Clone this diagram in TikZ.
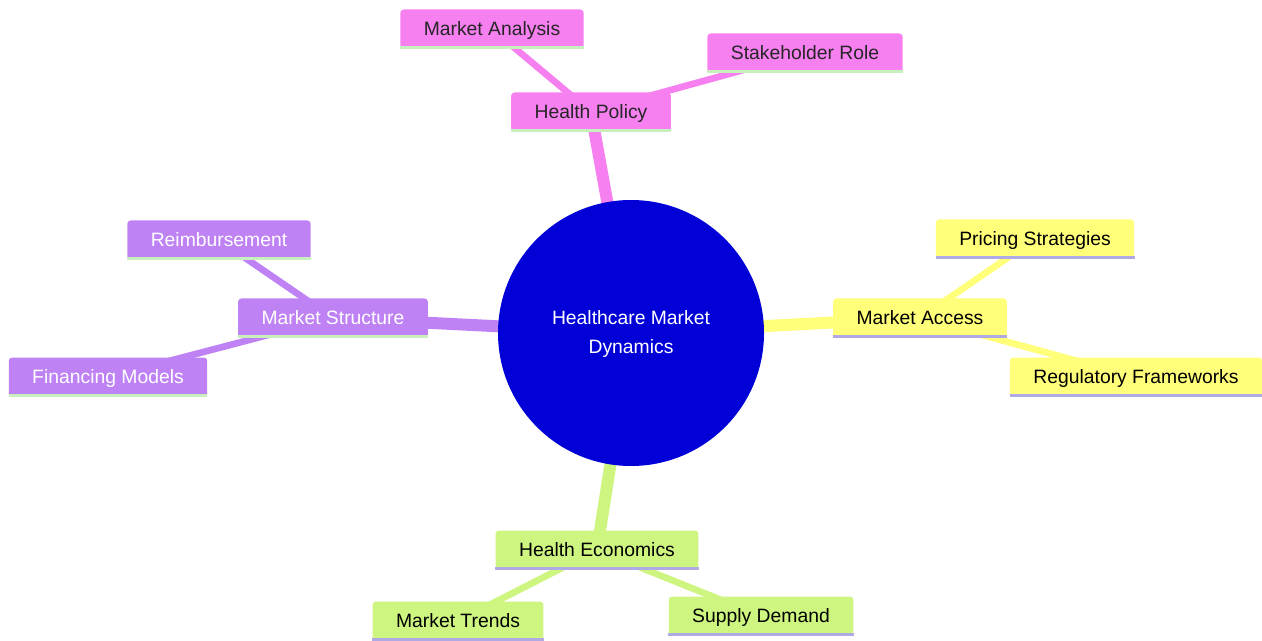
\documentclass[tikz,border=0pt]{standalone}
\usepackage{fontspec}
\setmainfont{Liberation Sans}
\usetikzlibrary{backgrounds}
\definecolor{hubblue}{RGB}{0,0,215}
\definecolor{pinkc}{RGB}{246,128,240}
\definecolor{purplec}{RGB}{191,130,245}
\definecolor{yellowc}{RGB}{255,255,122}
\definecolor{greenc}{RGB}{205,245,128}
\definecolor{lineG}{RGB}{200,240,190}
\definecolor{lineL}{RGB}{175,170,230}
\tikzset{
  hub/.style={circle, fill=hubblue, text=white, minimum size=199.5pt, align=center, font=\fontsize{14.5}{21.75}\selectfont},
  box/.style={rounded corners=2.5pt, minimum height=29.25pt, text height=10.4pt, text depth=0pt, inner xsep=17.6pt, font=\fontsize{14.5}{17}\selectfont},
  mainedge/.style={line width=9pt},
  subedge/.style={line width=5pt},
  botline/.style={line width=2pt}
}
\begin{document}
\begin{tikzpicture}[x=0.75pt,y=-0.75pt]
  \useasboundingbox (0,0) rectangle (1262,641);
  \node[hub] (hub) at (631,333) {}; %centre
  \node[text=white, align=center, font=\fontsize{14.5}{21.75}\selectfont] (hubtext) at (631,334) {Healthcare Market\\Dynamics};
  \node[box, fill=pinkc, text=black!85] (policy) at (591,112) {Health Policy};
  \node[box, fill=pinkc, text=black!85] (analysis) at (492,29) {Market Analysis};
  \node[box, fill=pinkc, text=black!85] (role) at (805,53) {Stakeholder Role};
  \node[box, fill=purplec, text=white] (structure) at (333,318) {Market Structure};
  \node[box, fill=purplec, text=white] (reimb) at (219,240) {Reimbursement};
  \node[box, fill=purplec, text=white] (financing) at (108,377) {Financing Models};
  \node[box, fill=yellowc, text=black] (access) at (920,318) {Market Access};
  \node[box, fill=yellowc, text=black] (pricing) at (1035,239) {Pricing Strategies};
  \node[box, fill=yellowc, text=black] (regul) at (1136,377) {Regulatory Frameworks};
  \node[box, fill=greenc, text=black] (economics) at (597,550) {Health Economics};
  \node[box, fill=greenc, text=black] (trends) at (458,621) {Market Trends};
  \node[box, fill=greenc, text=black] (supply) at (761,616) {Supply Demand};
  \begin{pgfonlayer}{background}
    \draw[mainedge, pinkc] (hub.center) -- (policy.center); %haut
    \draw[subedge, pinkc] (policy.center) -- (analysis.center);
    \draw[subedge, pinkc] (policy.center) -- (role.center);
    \draw[mainedge, purplec] (hub.center) -- (structure.center); %gauche
    \draw[subedge, purplec] (structure.center) -- (reimb.center);
    \draw[subedge, purplec] (structure.center) -- (financing.center);
    \draw[mainedge, yellowc] (hub.center) -- (access.center); %droite
    \draw[subedge, yellowc] (access.center) -- (pricing.center);
    \draw[subedge, yellowc] (access.center) -- (regul.center);
    \draw[mainedge, greenc] (hub.center) -- (economics.center); %bas
    \draw[subedge, greenc] (economics.center) -- (trends.center);
    \draw[subedge, greenc] (economics.center) -- (supply.center);
  \end{pgfonlayer}
  \foreach \n/\c in {policy/lineG, analysis/lineG, role/lineG, structure/lineG, reimb/lineG, financing/lineG, access/lineL, pricing/lineL, regul/lineL, economics/lineL, trends/lineL, supply/lineL}
    \draw[botline, \c] ([yshift=1pt]\n.south west) -- ([yshift=1pt]\n.south east);
\end{tikzpicture}
\end{document}
